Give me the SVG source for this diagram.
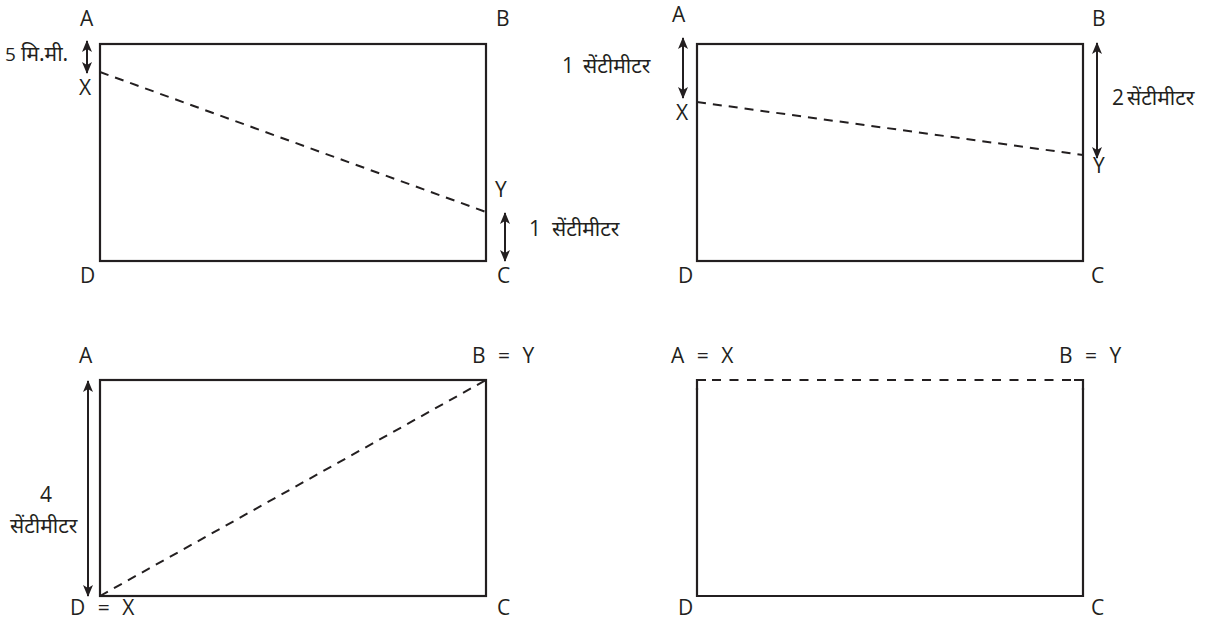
<svg xmlns="http://www.w3.org/2000/svg" width="1212" height="621" viewBox="0 0 1212 621">
<style>
.t{font-family:"Open Sans","Noto Sans",sans-serif;fill:#231f20;font-size:21px}
.e{word-spacing:7px}
.h{font-family:"Noto Sans Devanagari","Open Sans","Noto Sans",sans-serif;fill:#231f20;font-size:21px;font-weight:normal}
.r{fill:none;stroke:#231f20;stroke-width:2.2}
.d{fill:none;stroke:#231f20;stroke-width:2;stroke-dasharray:9,7}
.a{stroke:#231f20;stroke-width:2;marker-start:url(#ah);marker-end:url(#ah)}
</style>
<defs>
<marker id="ah" viewBox="0 0 12 10" refX="11" refY="5" markerWidth="12" markerHeight="10" markerUnits="userSpaceOnUse" orient="auto-start-reverse">
<path d="M0,0 L12,5 L0,10 L3,5 z" fill="#231f20"/>
</marker>
</defs>
<rect width="1212" height="621" fill="#fff"/>
<g id="fig1">
<rect class="r" x="100" y="44" width="386" height="217"/>
<text class="t" x="80" y="26">A</text>
<text class="t" x="496" y="26">B</text>
<text class="t" x="79" y="95">X</text>
<text class="t" x="495" y="197">Y</text>
<text class="t" x="80" y="283">D</text>
<text class="t" x="497" y="283">C</text>
<text class="t" x="5" y="61" style="font-size:19px">5</text>
<text class="h" x="21" y="61">मि.मी.</text>
<text class="t" x="529" y="236">1</text>
<text class="h" x="552" y="236">सेंटीमीटर</text>
</g>
<g id="fig2">
<rect class="r" x="697" y="44" width="386" height="217"/>
<text class="t" x="672" y="22">A</text>
<text class="t" x="1092" y="26">B</text>
<text class="t" x="676" y="120">X</text>
<text class="t" x="1093" y="173">Y</text>
<text class="t" x="678" y="283">D</text>
<text class="t" x="1091" y="283">C</text>
<text class="t" x="562" y="73">1</text>
<text class="h" x="583" y="73">सेंटीमीटर</text>
<text class="t" x="1112" y="105">2</text>
<text class="h" x="1127" y="105">सेंटीमीटर</text>
</g>
<g id="fig3">
<rect class="r" x="100" y="380" width="386" height="216"/>
<text class="t" x="79" y="363">A</text>
<text class="t e" x="472" y="363">B = Y</text>
<text class="t e" x="70" y="615">D = X</text>
<text class="t" x="497" y="615">C</text>
<text class="t" x="40" y="502">4</text>
<text class="h" x="10" y="533">सेंटीमीटर</text>
</g>
<g id="fig4">
<path class="r" d="M697,388 V596 H1083 V388"/>
<path class="r" d="M697,390 V380 H706 M1074,380 H1083 V390"/>
<text class="t e" x="671" y="363">A = X</text>
<text class="t e" x="1059" y="363">B = Y</text>
<text class="t" x="678" y="615">D</text>
<text class="t" x="1091" y="615">C</text>
</g>
<g id="connectors">
<line class="d" x1="100" y1="72" x2="486" y2="212"/>
<line class="a" x1="87" y1="41" x2="87" y2="73"/>
<line class="a" x1="505" y1="213" x2="505" y2="261"/>
<line class="d" x1="697" y1="102" x2="1083" y2="155"/>
<line class="a" x1="683" y1="38" x2="683" y2="98"/>
<line class="a" x1="1097" y1="43" x2="1097" y2="158"/>
<line class="d" x1="100" y1="596" x2="486" y2="380"/>
<line class="a" x1="88" y1="381" x2="88" y2="596"/>
<line class="d" x1="712" y1="380" x2="1072" y2="380" style="stroke-dasharray:9,8.5"/>
</g>
</svg>
